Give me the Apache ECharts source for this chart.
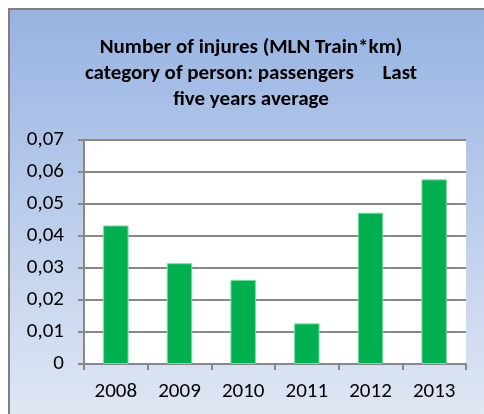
<!DOCTYPE html>
<html>
<head>
<meta charset="utf-8">
<script src="https://cdn.jsdelivr.net/npm/echarts@6/dist/echarts.min.js"></script>
<style>
  html, body { margin: 0; padding: 0; background: #fff; }
  #chart { width: 484px; height: 414px; }
</style>
</head>
<body>
<div id="chart"></div>
<script>
// data
const years = ['2008', '2009', '2010', '2011', '2012', '2013'];
const injuries = [0.0433, 0.0315, 0.0263, 0.0127, 0.0473, 0.0577];
const titleLines = [
  'Number of injures (MLN Train*km)',
  'category of person: passengers      Last',
  'five years average'
];

const font = 'Carlito, "Open Sans", "Liberation Sans", sans-serif';

const myChart = echarts.init(document.getElementById('chart'));
const option = {
  animation: false,
  graphic: [
    {
      type: 'rect',
      z: -10,
      shape: { x: 9, y: 9, width: 480, height: 410 },
      style: {
        fill: new echarts.graphic.LinearGradient(0, 0, 0, 1, [
          { offset: 0, color: '#97b3e2' },
          { offset: 1, color: '#e0e7f4' }
        ]),
        stroke: '#7f7f7f',
        lineWidth: 2
      }
    }
  ],
  title: {
    text: titleLines.join('\n'),
    left: 246,
    textAlign: 'center',
    top: 30,
    textStyle: {
      fontFamily: font,
      fontWeight: 'bold',
      fontSize: 21,
      lineHeight: 26,
      color: '#000'
    }
  },
  grid: {
    left: 84,
    top: 140,
    right: 18,
    bottom: 50,
    show: true,
    backgroundColor: '#fff',
    borderWidth: 0
  },
  xAxis: {
    type: 'category',
    data: years,
    axisLine: { lineStyle: { color: '#888', width: 2 } },
    axisTick: { show: true, length: 6, lineStyle: { color: '#888', width: 2 } },
    axisLabel: { color: '#000', fontSize: 21, fontFamily: font, margin: 17 }
  },
  yAxis: {
    type: 'value',
    min: 0,
    max: 0.07,
    interval: 0.01,
    axisLine: { show: true, lineStyle: { color: '#888', width: 2 } },
    axisTick: { show: true, length: 6, lineStyle: { color: '#888', width: 2 } },
    splitLine: { lineStyle: { color: '#888', width: 2 } },
    axisLabel: {
      color: '#000',
      fontSize: 21,
      fontFamily: font,
      margin: 20,
      formatter: (v) => v === 0 ? '0' : v.toFixed(2).replace('.', ',')
    }
  },
  series: [
    {
      type: 'bar',
      data: injuries,
      barWidth: '40%',
      itemStyle: {
        color: '#00b050',
        borderColor: '#7fdca4',
        borderWidth: 1
      }
    }
  ]
};
myChart.setOption(option);
</script>
</body>
</html>
